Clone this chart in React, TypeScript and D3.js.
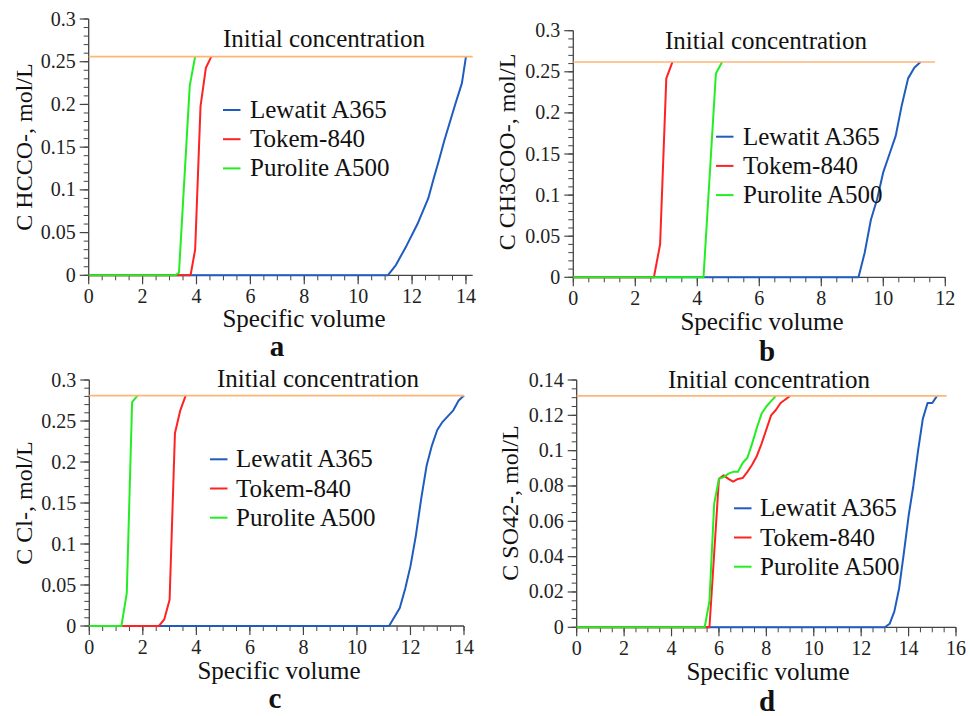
import React from "react";
import * as d3 from "d3";

type Pt = [number, number];

// ---------- data ----------
const seriesNames = ["Lewatit A365", "Tokem-840", "Purolite A500"];
const panelLetters = ["a", "b", "c", "d"];
const yTitles = ["C HCCO-, mol/L", "C CH3COO-, mol/L", "C Cl-, mol/L", "C SO42-, mol/L"];
const initialValues = [0.256, 0.262, 0.281, 0.131];
const initialEnds = [14.25, 11.67, 14, 15.6];
const xMaxes = [14.25, 12, 14, 16];
const yMaxes = [0.3, 0.3, 0.3, 0.14];
const xMajorTicks = [
  [0, 2, 4, 6, 8, 10, 12, 14],
  [0, 2, 4, 6, 8, 10, 12],
  [0, 2, 4, 6, 8, 10, 12, 14],
  [0, 2, 4, 6, 8, 10, 12, 14, 16],
];
const yMajorTicks = [
  [0, 0.05, 0.1, 0.15, 0.2, 0.25, 0.3],
  [0, 0.05, 0.1, 0.15, 0.2, 0.25, 0.3],
  [0, 0.05, 0.1, 0.15, 0.2, 0.25, 0.3],
  [0, 0.02, 0.04, 0.06, 0.08, 0.1, 0.12, 0.14],
];
const yTickLabels = [
  ["0", "0.05", "0.1", "0.15", "0.2", "0.25", "0.3"],
  ["0", "0.05", "0.1", "0.15", "0.2", "0.25", "0.3"],
  ["0", "0.05", "0.1", "0.15", "0.2", "0.25", "0.3"],
  ["0", "0.02", "0.04", "0.06", "0.08", "0.1", "0.12", "0.14"],
];
const yMinorSteps = [0.01, 0.01, 0.01, 0.005];
const xMinorStep = 0.5;

// Panel a (HCCO-)
const aLewatit: Pt[] = [[0, 0], [11.1, 0], [11.4, 0.012], [11.8, 0.035], [12.2, 0.06], [12.6, 0.09], [12.8, 0.113], [13.0, 0.135], [13.2, 0.158], [13.6, 0.2], [13.85, 0.225], [14.0, 0.256]];
const aTokem: Pt[] = [[0, 0], [3.78, 0], [3.95, 0.03], [4.15, 0.198], [4.35, 0.243], [4.55, 0.256]];
const aPurolite: Pt[] = [[0, 0], [3.2, 0], [3.35, 0.003], [3.75, 0.222], [3.95, 0.256]];

// Panel b (CH3COO-)
const bLewatit: Pt[] = [[0, 0], [9.2, 0], [9.4, 0.03], [9.6, 0.07], [9.8, 0.095], [10.0, 0.128], [10.2, 0.15], [10.4, 0.172], [10.6, 0.21], [10.8, 0.242], [11.0, 0.255], [11.2, 0.262]];
const bTokem: Pt[] = [[0, 0], [2.6, 0], [2.8, 0.04], [3.0, 0.242], [3.2, 0.262]];
const bPurolite: Pt[] = [[0, 0], [4.2, 0], [4.6, 0.248], [4.8, 0.262]];

// Panel c (Cl-)
const cLewatit: Pt[] = [[0, 0], [11.2, 0], [11.6, 0.022], [11.8, 0.045], [12.0, 0.073], [12.2, 0.11], [12.4, 0.155], [12.6, 0.195], [12.8, 0.22], [13.0, 0.239], [13.2, 0.249], [13.4, 0.256], [13.6, 0.263], [13.8, 0.275], [14.0, 0.281]];
const cTokem: Pt[] = [[0, 0], [2.6, 0], [2.8, 0.008], [3.0, 0.032], [3.2, 0.235], [3.4, 0.263], [3.6, 0.281]];
const cPurolite: Pt[] = [[0, 0], [1.2, 0], [1.4, 0.04], [1.6, 0.273], [1.8, 0.281]];

// Panel d (SO4 2-)
const dLewatit: Pt[] = [[0, 0], [13.0, 0], [13.2, 0.002], [13.4, 0.009], [13.6, 0.022], [13.8, 0.042], [14.0, 0.063], [14.2, 0.08], [14.4, 0.1], [14.6, 0.118], [14.8, 0.127], [15.0, 0.127], [15.2, 0.131]];
const dTokem: Pt[] = [[0, 0], [5.6, 0], [5.8, 0.042], [6.0, 0.084], [6.2, 0.086], [6.4, 0.084], [6.6, 0.0825], [6.8, 0.084], [7.0, 0.0845], [7.2, 0.088], [7.4, 0.092], [7.6, 0.097], [7.8, 0.104], [8.0, 0.112], [8.2, 0.12], [8.4, 0.123], [8.6, 0.127], [8.8, 0.129], [9.0, 0.131]];
const dPurolite: Pt[] = [[0, 0], [5.4, 0], [5.6, 0.015], [5.8, 0.07], [6.0, 0.084], [6.2, 0.085], [6.4, 0.087], [6.6, 0.088], [6.8, 0.088], [7.0, 0.093], [7.2, 0.096], [7.4, 0.104], [7.6, 0.113], [7.8, 0.121], [8.0, 0.125], [8.2, 0.128], [8.4, 0.131]];

const panelSeries: Pt[][][] = [
  [aLewatit, aTokem, aPurolite],
  [bLewatit, bTokem, bPurolite],
  [cLewatit, cTokem, cPurolite],
  [dLewatit, dTokem, dPurolite],
];

// ---------- layout / style ----------
const COLORS = ["#1f5cbf", "#ff2222", "#22ee22"];
const INIT_COLOR = "#ffb574";
const FONT = '"Liberation Serif", Tinos, "Times New Roman", "DejaVu Serif", serif';

interface Layout {
  x0: number; x1: number; y0: number; y1: number;
  yTitleX: number; yTitleY: number;
  xTitleX: number; xTitleDy: number;
  letterX: number; letterY: number;
  initTextX: number; initTextY: number;
  legLineX: number; legTextX: number; legY: number;
}

const layouts: Layout[] = [
  { x0: 88.7, x1: 472.7, y0: 275.3, y1: 19, yTitleX: 32, yTitleY: 147, xTitleX: 304, xTitleDy: 52, letterX: 277, letterY: 356, initTextX: 223, initTextY: 47, legLineX: 223, legTextX: 250, legY: 110 },
  { x0: 573.3, x1: 945.3, y0: 277.3, y1: 30.7, yTitleX: 515, yTitleY: 152, xTitleX: 762, xTitleDy: 53, letterX: 767, letterY: 361, initTextX: 665, initTextY: 48.5, legLineX: 716, legTextX: 743, legY: 136.7 },
  { x0: 89.3, x1: 464, y0: 626, y1: 380, yTitleX: 32, yTitleY: 503, xTitleX: 279, xTitleDy: 53, letterX: 275, letterY: 708, initTextX: 217, initTextY: 387, legLineX: 210, legTextX: 236, legY: 459.3 },
  { x0: 576.7, x1: 956, y0: 627.3, y1: 380, yTitleX: 518, yTitleY: 503, xTitleX: 768, xTitleDy: 53, letterX: 767, letterY: 711, initTextX: 668, initTextY: 387.5, legLineX: 734, legTextX: 760, legY: 508.3 },
];

const textStyle = (size: number, weight: string = "normal"): React.CSSProperties => ({
  fontFamily: FONT,
  fontSize: size + "px",
  fontWeight: weight as any,
});

function Panel({ idx }: { idx: number }) {
  const L = layouts[idx];
  const x = d3.scaleLinear().domain([0, xMaxes[idx]]).range([L.x0, L.x1]);
  const y = d3.scaleLinear().domain([0, yMaxes[idx]]).range([L.y0, L.y1]);
  const line = d3.line<Pt>().x((d) => x(d[0])).y((d) => y(d[1]));

  const xMinor = d3.range(0, xMaxes[idx] + 1e-9, xMinorStep);
  const yMinor = d3.range(0, yMaxes[idx] + 1e-9, yMinorSteps[idx]);
  const axisColor = "#444";

  return (
    <g>
      {xMinor.map((v, i) => (
        <line key={"xm" + i} x1={x(v)} x2={x(v)} y1={L.y0} y2={L.y0 + 5} stroke={axisColor} strokeWidth={1} />
      ))}
      {yMinor.map((v, i) => (
        <line key={"ym" + i} x1={L.x0 - 5} x2={L.x0} y1={y(v)} y2={y(v)} stroke={axisColor} strokeWidth={1} />
      ))}
      {xMajorTicks[idx].map((v, i) => (
        <g key={"xM" + i}>
          <line x1={x(v)} x2={x(v)} y1={L.y0} y2={L.y0 + 9} stroke={axisColor} strokeWidth={1.2} />
          <text x={x(v)} y={L.y0 + 28} textAnchor="middle" style={textStyle(20)} fill="#222">{String(v)}</text>
        </g>
      ))}
      {yMajorTicks[idx].map((v, i) => (
        <g key={"yM" + i}>
          <line x1={L.x0 - 9} x2={L.x0} y1={y(v)} y2={y(v)} stroke={axisColor} strokeWidth={1.2} />
          <text x={L.x0 - 13} y={y(v) + 6.5} textAnchor="end" style={textStyle(20)} fill="#222">{yTickLabels[idx][i]}</text>
        </g>
      ))}
      <line x1={L.x0} x2={L.x1} y1={L.y0} y2={L.y0} stroke={axisColor} strokeWidth={1.3} />
      <line x1={L.x0} x2={L.x0} y1={L.y0} y2={L.y1} stroke={axisColor} strokeWidth={1.3} />

      {panelSeries[idx].map((s, si) => (
        <path key={"s" + si} d={line(s) || ""} fill="none" stroke={COLORS[si]} strokeWidth={2} strokeLinejoin="round" />
      ))}
      <line x1={x(0)} x2={x(initialEnds[idx])} y1={y(initialValues[idx])} y2={y(initialValues[idx])} stroke={INIT_COLOR} strokeWidth={1.6} />
      <text x={L.initTextX} y={L.initTextY} style={textStyle(25)} fill="#111">Initial concentration</text>

      {seriesNames.map((n, si) => (
        <g key={"l" + si}>
          <line x1={L.legLineX} x2={L.legLineX + 17.5} y1={L.legY + si * 29.2} y2={L.legY + si * 29.2} stroke={COLORS[si]} strokeWidth={2} />
          <text x={L.legTextX} y={L.legY + si * 29.2 + 8} style={textStyle(25)} fill="#111">{n}</text>
        </g>
      ))}

      <text x={L.xTitleX} y={L.y0 + L.xTitleDy} textAnchor="middle" style={textStyle(25)} fill="#111">Specific volume</text>
      <text transform={`translate(${L.yTitleX},${L.yTitleY}) rotate(-90)`} textAnchor="middle" style={textStyle(24)} fill="#111">{yTitles[idx]}</text>
      <text x={L.letterX} y={L.letterY} textAnchor="middle" style={textStyle(29, "bold")} fill="#111">{panelLetters[idx]}</text>
    </g>
  );
}

export default function App() {
  return (
    <svg width={970} height={716} style={{ position: "absolute", left: 0, top: 0, background: "#fff" }}>
      <rect x={0} y={0} width={970} height={716} fill="#fff" />
      {[0, 1, 2, 3].map((i) => (
        <Panel key={i} idx={i} />
      ))}
    </svg>
  );
}
